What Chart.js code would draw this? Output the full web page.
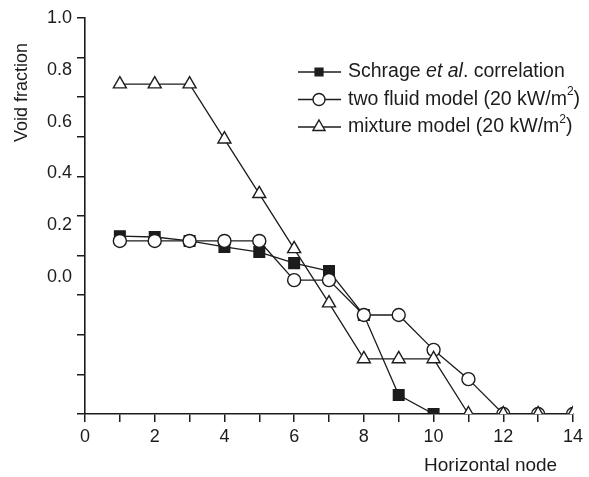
<!DOCTYPE html>
<html><head><meta charset="utf-8">
<script src="https://cdn.jsdelivr.net/npm/chart.js@4/dist/chart.umd.min.js"></script>
<style>html,body{margin:0;padding:0;background:#fff}#wrap{width:589px;height:477px;position:relative}</style>
</head><body><div id="wrap"><canvas id="c"></canvas></div>
<script>
// ---- data ----
const nodes = [1,2,3,4,5,6,7,8,9,10,11,12,13,14];
const schrage  = [0.449,0.447,0.437,0.422,0.409,0.381,0.361,0.250,0.048,0.000];
const twoFluid = [0.437,0.437,0.437,0.437,0.437,0.338,0.338,0.250,0.250,0.162,0.088,0.000,0.000,0.000];
const mixture  = [0.833,0.833,0.833,0.694,0.556,0.417,0.280,0.139,0.139,0.139,0.000,0.000,0.000,0.000];
const seriesNames = ['Schrage et al. correlation','two fluid model (20 kW/m²)','mixture model (20 kW/m²)'];
const yTickLabels = ['1.0','0.8','0.6','0.4','0.2','0.0'];
const xTickLabels = ['0','2','4','6','8','10','12','14'];
const xTitle = 'Horizontal node';
const yTitle = 'Void fraction';

const FONT = "'Liberation Sans', Arial, Helvetica, sans-serif";
const INK = '#1c1c1c';
Chart.defaults.font.family = FONT;
Chart.defaults.color = INK;

const toPts = arr => arr.map((v,i)=>({x:nodes[i], y:v}));

const styles = [
  {pointStyle:'rect', radius:7.5, bg:INK, order:3, lr:5.5},
  {pointStyle:'circle', radius:6.5, bg:'#fff', order:2, lr:6},
  {pointStyle:'triangle', radius:7.5, bg:'#fff', order:1, lr:7}
];
const series = [schrage, twoFluid, mixture];

const datasets = series.map((arr,k)=>({
  label: seriesNames[k],
  data: toPts(arr),
  borderColor: INK,
  borderWidth: 1.3,
  pointStyle: styles[k].pointStyle,
  pointRadius: styles[k].radius,
  pointBackgroundColor: styles[k].bg,
  pointBorderColor: INK,
  pointBorderWidth: 1.4,
  tension: 0,
  order: styles[k].order,
  yAxisID: 'y',
  xAxisID: 'x'
}));

function drawRich(ctx, text, x, y, size) {
  const parts = [];
  const re = /(et al)|(²)/g;
  let last = 0, m;
  while ((m = re.exec(text))) {
    if (m.index > last) parts.push({t:text.slice(last, m.index), s:'n'});
    if (m[1]) parts.push({t:'et al', s:'i'}); else parts.push({t:'2', s:'sup'});
    last = re.lastIndex;
  }
  if (last < text.length) parts.push({t:text.slice(last), s:'n'});
  let cx = x;
  for (const p of parts) {
    let fs = size, dy = 0, st = '';
    if (p.s === 'i') st = 'italic ';
    if (p.s === 'sup') { fs = size*0.62; dy = -size*0.38; }
    ctx.font = st + fs + 'px ' + FONT;
    ctx.fillText(p.t, cx, y + dy);
    cx += ctx.measureText(p.t).width;
  }
}

const legendPlugin = {
  id: 'inlineLegend',
  afterDraw(chart) {
    const ctx = chart.ctx;
    const lx0 = 298, lx1 = 341, mx = 319, tx = 348, y0 = 72, dy = 27.5, fs = 19.5;
    ctx.save();
    chart.data.datasets.forEach((ds, k) => {
      const y = y0 + k*dy;
      ctx.strokeStyle = INK; ctx.lineWidth = 1.3;
      ctx.beginPath(); ctx.moveTo(lx0, y); ctx.lineTo(lx1, y); ctx.stroke();
      ctx.fillStyle = styles[k].bg; ctx.strokeStyle = INK; ctx.lineWidth = 1.4;
      Chart.helpers.drawPoint(ctx, {pointStyle: styles[k].pointStyle, radius: styles[k].lr, borderWidth: 1.4, rotation: 0}, mx, y);
      ctx.fillStyle = INK; ctx.textBaseline = 'middle'; ctx.textAlign = 'left';
      drawRich(ctx, ds.label, tx, y, fs);
    });
    ctx.restore();
  }
};

new Chart(document.getElementById('c'), {
  type: 'line',
  data: { datasets },
  options: {
    responsive: true,
    maintainAspectRatio: false,
    animation: false,
    layout: { padding: { top: 18, right: 16, left: 0, bottom: 0 } },
    plugins: { legend: { display: false }, tooltip: { enabled: false } },
    scales: {
      x: {
        type: 'linear', min: 0, max: 14, position: 'bottom',
        grid: { drawOnChartArea: false, drawTicks: true, tickLength: 8, color: INK, lineWidth: 1.5 },
        border: { display: true, color: INK, width: 1.6 },
        ticks: {
          stepSize: 1, autoSkip: false, maxRotation: 0, padding: 4,
          font: { size: 18 }, color: INK,
          callback: (v) => (v % 2 === 0 ? xTickLabels[v/2] : '')
        },
        title: { display: true, text: xTitle + '   ', align: 'end', font: { size: 19 }, color: INK, padding: { top: 0, bottom: 0 } },
        afterFit: (s) => { s.height = 63; }
      },
      y: {
        type: 'linear', position: 'left', min: 0, max: 1, weight: 0,
        grid: { drawOnChartArea: false, drawTicks: true, tickLength: 8, color: INK, lineWidth: 1.5 },
        border: { display: true, color: INK, width: 1.6 },
        ticks: { display: false, stepSize: 0.1 },
        afterFit: (s) => { s.width = 8; }
      },
      yl: {
        type: 'linear', position: 'left', min: -0.529, max: 1.0, weight: 1,
        grid: { display: false, drawTicks: false, drawOnChartArea: false },
        border: { display: false },
        afterBuildTicks: (s) => { s.ticks = yTickLabels.map(t => ({ value: parseFloat(t) })); },
        ticks: { padding: 5, font: { size: 18 }, color: INK, callback: (v, i) => yTickLabels[i] },
        title: { display: true, text: yTitle + '     ', align: 'end', font: { size: 18 }, color: INK, padding: { top: 11, bottom: 0 } },
        afterFit: (s) => { s.width = 77; }
      }
    }
  },
  plugins: [legendPlugin]
});
</script>
</body></html>
